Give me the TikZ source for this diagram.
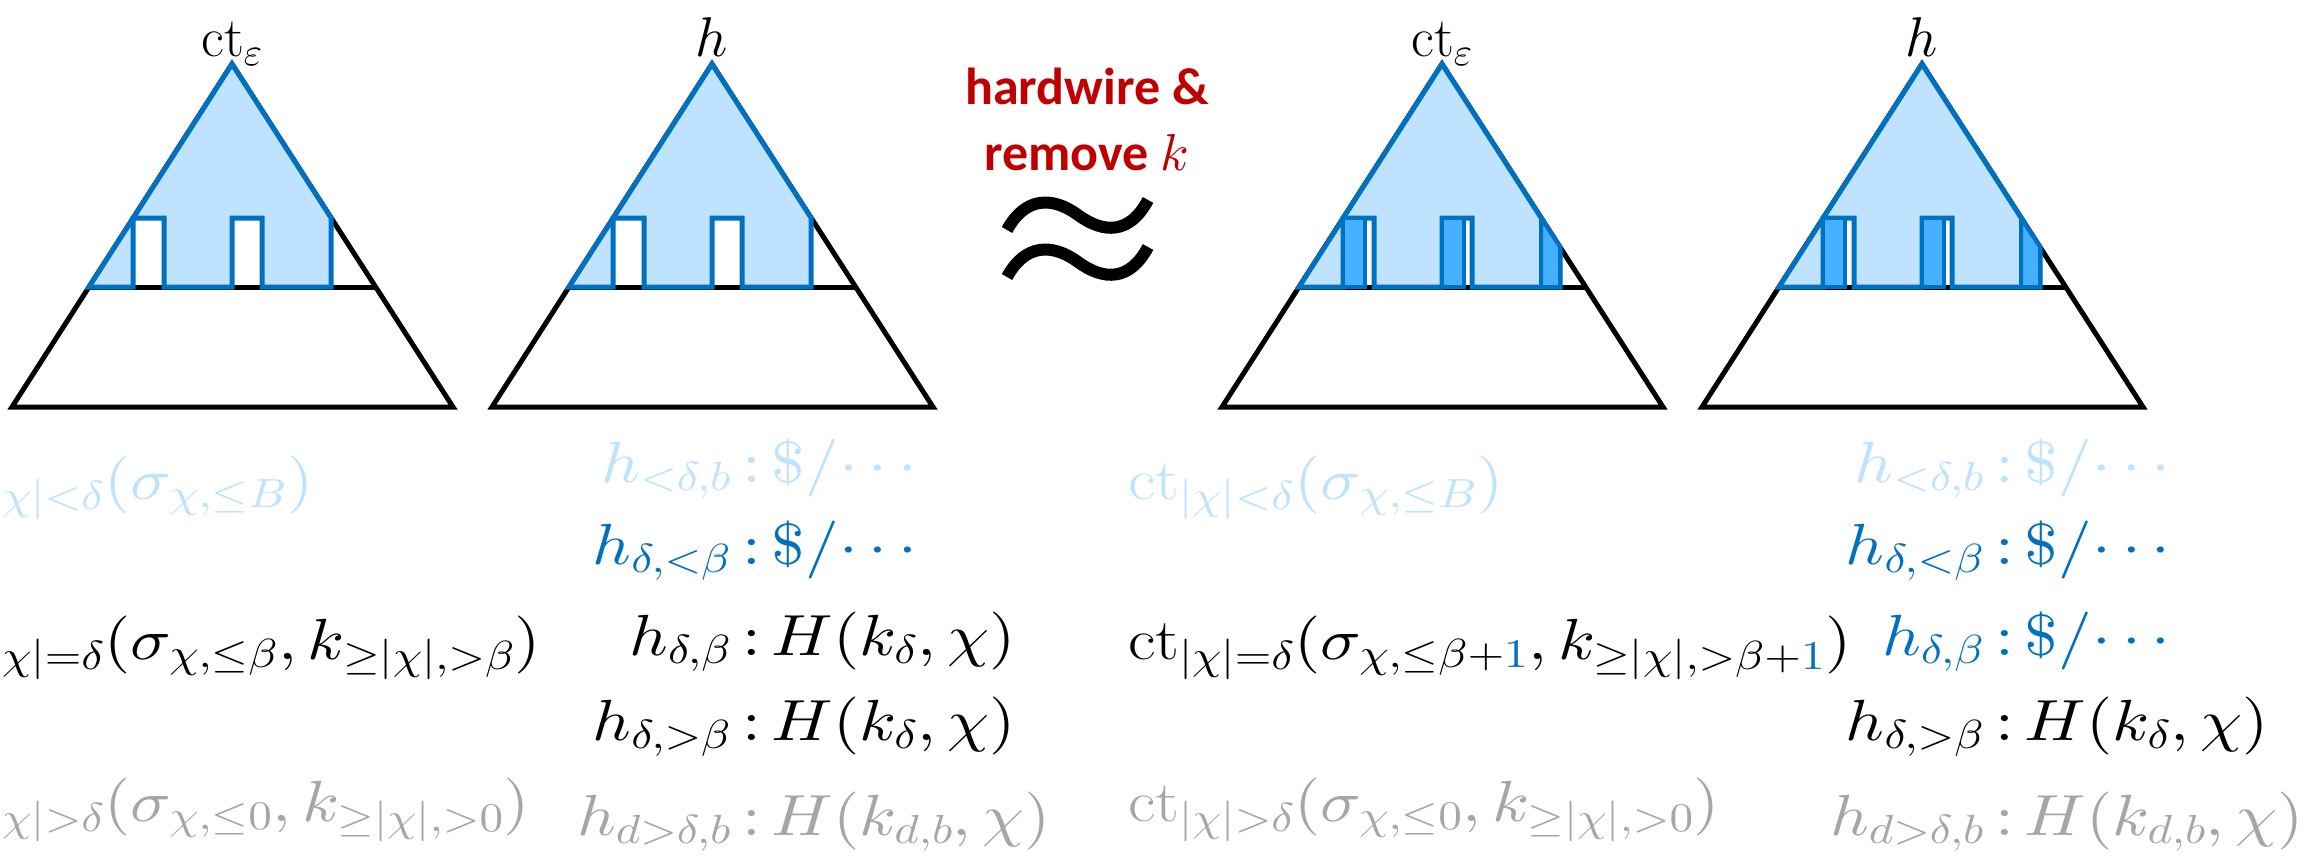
\documentclass[tikz,border=0pt]{standalone}
\usepackage{fontspec}
\DeclareFontShape{OML}{cmm}{m}{it}{<->cmmi10}{}
\DeclareFontShape{OML}{cmm}{b}{it}{<->cmmib10}{}
\DeclareFontShape{OMS}{cmsy}{m}{n}{<->cmsy10}{}
\DeclareFontShape{OMX}{cmex}{m}{n}{<->cmex10}{}
\DeclareFontShape{OT1}{cmr}{m}{n}{<->cmr10}{}
\newfontfamily\carlito{Carlito}
\definecolor{lblue}{HTML}{BFE3FF}
\definecolor{mblue}{HTML}{0070C0}
\definecolor{dblue}{HTML}{45B0FF}
\definecolor{gtxt}{HTML}{A6A6A6}
\definecolor{rtxt}{HTML}{C00000}
\definecolor{ltxt}{HTML}{BDE3FF}
\newcommand{\sx}[1]{\scalebox{1.16}[1]{#1}}
\newcommand{\dol}{{:}\mkern3mu\$/{\cdots}}
\newcommand{\mytree}[2]{%
  \coordinate (#1A) at (232,64);
  \coordinate (#1L) at (12,407);
  \coordinate (#1R) at (453,407);
  \coordinate (#1ML) at (89,287);
  \coordinate (#1MR) at (376,287);
  \draw[blk] (#1A) -- (#1L) -- (#1R) -- cycle;
  \draw[blk] (#1ML) -- (#1MR);
  \ifnum#2=0
    \draw[bl] (#1A) -- (#1ML) -- (133.2,287) -- (133.2,218) -- (164,218) -- (164,287) -- (232,287) -- (232,218) -- (262,218) -- (262,287) -- (331.2,287) -- (331.2,218) -- cycle;
  \else
    \draw[bl] (#1A) -- (#1ML) -- (133.2,287) -- (133.2,218) -- (164,218) -- (164,287) -- (232,287) -- (232,218) -- (262,218) -- (262,287) -- (350,287) -- (350,247.1) -- cycle;
    \draw[dk] (133.2,218) rectangle (155,287);
    \draw[dk] (232,218) rectangle (254,287);
    \draw[dk] (331.2,218) -- (350,247.1) -- (350,287) -- (331.2,287) -- cycle;
  \fi
}
\newcommand{\mywave}[1]{%
  \draw[wave] (1007,230+#1) .. controls (1025,197+#1) and (1052,196+#1) .. (1078,215+#1) .. controls (1104,234+#1) and (1130,234+#1) .. (1148,200+#1);
}
\begin{document}
\begin{tikzpicture}[x=1pt,y=-1pt,
  blk/.style={draw=black,line width=5pt},
  bl/.style={draw=mblue,fill=lblue,line width=5pt},
  dk/.style={draw=mblue,fill=dblue,line width=4pt},
  wave/.style={draw=black,line width=12pt},
  mt/.style={inner sep=0pt,outer sep=0pt,font=\fontsize{58}{62}\selectfont},
  lab/.style={inner sep=0pt,outer sep=0pt,font=\fontsize{56}{60}\selectfont},
  red/.style={inner sep=0pt,outer sep=0pt,text=rtxt,font=\carlito\bfseries\fontsize{52}{56}\selectfont}]
\useasboundingbox (0,0) rectangle (2305,856);
\fill[white] (0,0) rectangle (2305,856);
% trees
\begin{scope}\mytree{ta}{0}\end{scope}
\begin{scope}[xshift=480pt]\mytree{tb}{0}\end{scope}
\begin{scope}[xshift=1210pt]\mytree{tc}{1}\end{scope}
\begin{scope}[xshift=1690pt]\mytree{td}{1}\end{scope}
% labels
\node[lab,anchor=base] (la) at (232,57) {$\mathrm{ct}_\varepsilon$};
\node[lab,anchor=base] (lb) at (712,57) {$h$};
\node[lab,anchor=base] (lc) at (1442,57) {$\mathrm{ct}_\varepsilon$};
\node[lab,anchor=base] (ld) at (1922,57) {$h$};
% middle
\node[red,anchor=base] (hw) at (1087,105) {hardwire \&};
\node[red,anchor=base] (rm) at (1087,170) {remove {\normalfont$k$}};
\mywave{0}
\mywave{47}
% column 1
\node[mt,anchor=base west,text=ltxt] (c1a) at (-62,499) {\sx{$\mathrm{ct}_{|\chi|<\delta}(\sigma_{\chi,\leq B})$}};
\node[mt,anchor=base west] (c1b) at (-62,659) {\sx{$\mathrm{ct}_{|\chi|=\delta}(\sigma_{\chi,\leq\beta},k_{\geq|\chi|,>\beta})$}};
\node[mt,anchor=base west,text=gtxt] (c1c) at (-62,821) {\sx{$\mathrm{ct}_{|\chi|>\delta}(\sigma_{\chi,\leq 0},k_{\geq|\chi|,>0})$}};
% column 3
\node[mt,anchor=base west,text=ltxt] (c3a) at (1128,499) {\sx{$\mathrm{ct}_{|\chi|<\delta}(\sigma_{\chi,\leq B})$}};
\node[mt,anchor=base west] (c3b) at (1128,659) {\sx{$\mathrm{ct}_{|\chi|=\delta}(\sigma_{\chi,\leq\beta+\textcolor{mblue}{1}},k_{\geq|\chi|,>\beta+\textcolor{mblue}{1}})$}};
\node[mt,anchor=base west,text=gtxt] (c3c) at (1128,821) {\sx{$\mathrm{ct}_{|\chi|>\delta}(\sigma_{\chi,\leq 0},k_{\geq|\chi|,>0})$}};
% column 2
\node[mt,anchor=base east,text=ltxt] (c2a) at (731,482) {\sx{$h_{<\delta,b}$}};
\node[mt,anchor=base west,text=ltxt] (c2ar) at (742,482) {\sx{$\dol$}};
\node[mt,anchor=base east,text=mblue] (c2b) at (731,564) {\sx{$h_{\delta,<\beta}$}};
\node[mt,anchor=base west,text=mblue] (c2br) at (742,564) {\sx{$\dol$}};
\node[mt,anchor=base east] (c2c) at (731,655) {\sx{$h_{\delta,\beta}$}};
\node[mt,anchor=base west] (c2cr) at (742,655) {\sx{${:}\mkern3mu H(k_\delta,\chi)$}};
\node[mt,anchor=base east] (c2d) at (731,740) {\sx{$h_{\delta,>\beta}$}};
\node[mt,anchor=base west] (c2dr) at (742,740) {\sx{${:}\mkern3mu H(k_\delta,\chi)$}};
\node[mt,anchor=base east,text=gtxt] (c2e) at (731,835) {\sx{$h_{d>\delta,b}$}};
\node[mt,anchor=base west,text=gtxt] (c2er) at (742,835) {\sx{${:}\mkern3mu H(k_{d,b},\chi)$}};
% column 4
\node[mt,anchor=base east,text=ltxt] (c4a) at (1984,482) {\sx{$h_{<\delta,b}$}};
\node[mt,anchor=base west,text=ltxt] (c4ar) at (1995,482) {\sx{$\dol$}};
\node[mt,anchor=base east,text=mblue] (c4b) at (1984,564) {\sx{$h_{\delta,<\beta}$}};
\node[mt,anchor=base west,text=mblue] (c4br) at (1995,564) {\sx{$\dol$}};
\node[mt,anchor=base east,text=mblue] (c4c) at (1984,655) {\sx{$h_{\delta,\beta}$}};
\node[mt,anchor=base west,text=mblue] (c4cr) at (1995,655) {\sx{$\dol$}};
\node[mt,anchor=base east] (c4d) at (1984,740) {\sx{$h_{\delta,>\beta}$}};
\node[mt,anchor=base west] (c4dr) at (1995,740) {\sx{${:}\mkern3mu H(k_\delta,\chi)$}};
\node[mt,anchor=base east,text=gtxt] (c4e) at (1984,835) {\sx{$h_{d>\delta,b}$}};
\node[mt,anchor=base west,text=gtxt] (c4er) at (1995,835) {\sx{${:}\mkern3mu H(k_{d,b},\chi)$}};
\end{tikzpicture}
\end{document}
